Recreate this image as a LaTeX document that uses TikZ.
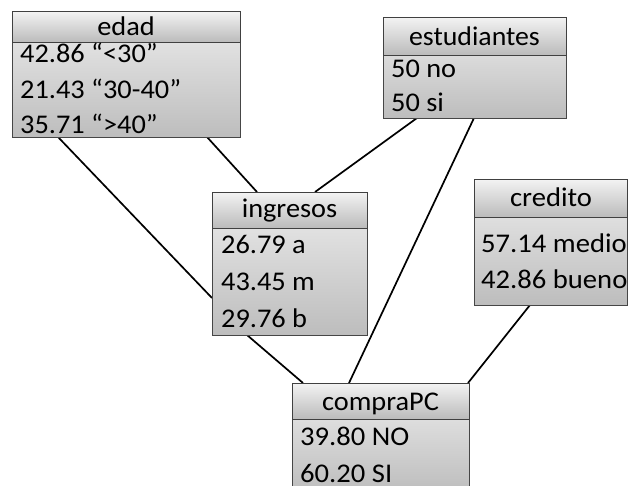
\documentclass[tikz,border=0pt]{standalone}
\usepackage{fontspec}
\usepackage{graphicx}
\setmainfont{Carlito}
\newcommand{\hsc}[2]{\scalebox{#1}[1]{#2}}
\begin{document}
\begin{tikzpicture}[x=1pt,y=-1pt,
  box/.style={draw=gray!55!black, line width=1pt, rectangle, inner sep=0pt, anchor=north west,
    top color=black!7, bottom color=black!26},
  head/.style={draw=gray!50!black, line width=1.2pt, rectangle, inner sep=0pt, anchor=north west,
    top color=black!5, bottom color=black!27},
  txt/.style={font=\fontsize{27}{30}\selectfont, inner sep=0pt, text=black},
  link/.style={line width=1.7pt, black}]
\useasboundingbox (0,0) rectangle (628,486);
\fill[white] (0,0) rectangle (628,486);
% connectors (drawn first, behind boxes)
\coordinate (e1) at (58,137);
\coordinate (e2) at (207,137);
\coordinate (s1) at (417,118);
\coordinate (s2) at (474,118);
\coordinate (c1) at (530,305);
\coordinate (iL) at (212,298);
\coordinate (iT1) at (257,192);
\coordinate (iT2) at (315,192);
\coordinate (iB) at (247,335);
\coordinate (pT1) at (303,383);
\coordinate (pT2) at (349,383);
\coordinate (pT3) at (468,383);
\draw[link] (e1) -- (iL);
\draw[link] (e2) -- (iT1);
\draw[link] (s1) -- (iT2);
\draw[link] (s2) -- (pT2);
\draw[link] (c1) -- (pT3);
\draw[link] (iB) -- (pT1);
% edad
\node[box, minimum width=228, minimum height=126] (edad) at (12,11) {};
\node[head, minimum width=228, minimum height=31] (edadh) at (12,11) {};
\node[txt, anchor=base] (edadt) at (126,36) {\hsc{1.05}{edad}};
\node[txt, anchor=base west] (edad1) at (20,63) {\hsc{1.05}{42.86 “<30”}};
\node[txt, anchor=base west] (edad2) at (20,99) {\hsc{1.05}{21.43 “30-40”}};
\node[txt, anchor=base west] (edad3) at (20,134) {\hsc{1.05}{35.71 “>40”}};
% estudiantes
\node[box, minimum width=183, minimum height=101] (est) at (383,17) {};
\node[head, minimum width=183, minimum height=38] (esth) at (383,17) {};
\node[txt, anchor=base] (estt) at (474.5,46) {\hsc{1.03}{estudiantes}};
\node[txt, anchor=base west] (est1) at (391,78) {\hsc{1.05}{50 no}};
\node[txt, anchor=base west] (est2) at (391,112) {\hsc{1.05}{50 si}};
% ingresos
\node[box, minimum width=155, minimum height=143] (ing) at (212,192) {};
\node[head, minimum width=155, minimum height=36] (ingh) at (212,192) {};
\node[txt, anchor=base] (ingt) at (289.5,218) {\hsc{1.05}{ingresos}};
\node[txt, anchor=base west] (ing1) at (221,253) {\hsc{1.05}{26.79 a}};
\node[txt, anchor=base west] (ing2) at (221,290) {\hsc{1.05}{43.45 m}};
\node[txt, anchor=base west] (ing3) at (221,327) {\hsc{1.05}{29.76 b}};
% credito
\node[box, minimum width=153, minimum height=126] (cre) at (474,179) {};
\node[head, minimum width=153, minimum height=38] (creh) at (474,179) {};
\node[txt, anchor=base] (cret) at (551,207) {\hsc{1.06}{credito}};
\node[txt, anchor=base west] (cre1) at (481,252) {\hsc{1.06}{57.14 medio}};
\node[txt, anchor=base west] (cre2) at (481,288) {\hsc{1.06}{42.86 bueno}};
% compraPC
\node[box, minimum width=177, minimum height=110] (cpc) at (292,383) {};
\node[head, minimum width=177, minimum height=36] (cpch) at (292,383) {};
\node[txt, anchor=base] (cpct) at (380.5,410) {\hsc{1.05}{compraPC}};
\node[txt, anchor=base west] (cpc1) at (300,445) {\hsc{1.06}{39.80 NO}};
\node[txt, anchor=base west] (cpc2) at (300,482) {\hsc{1.06}{60.20 SI}};
\end{tikzpicture}
\end{document}
